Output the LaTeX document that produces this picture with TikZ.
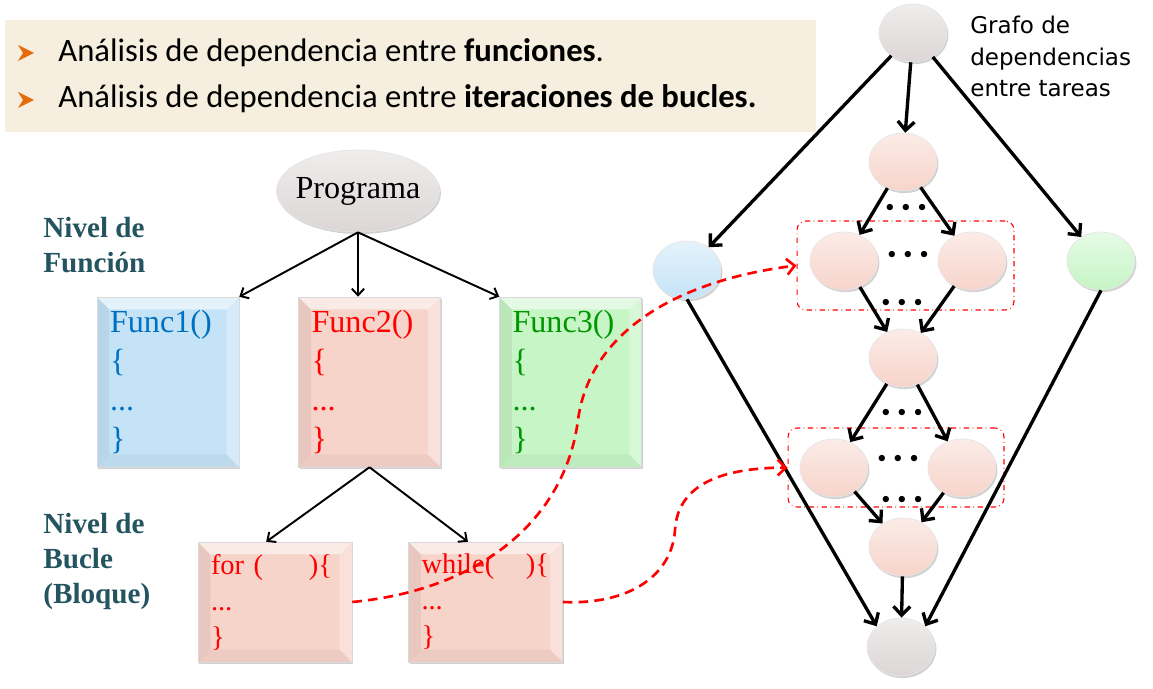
\documentclass[tikz,border=0pt]{standalone}
\usepackage{fontspec}
\setmainfont{Liberation Serif}
\newfontfamily\calibri{Carlito}
\newfontfamily\comic{DejaVu Sans}
\usetikzlibrary{arrows,arrows.meta,shapes.geometric,shadows}

\definecolor{beige}{RGB}{246,238,222}
\definecolor{naranja}{RGB}{228,108,10}
\definecolor{pizarra}{RGB}{36,84,96}
\definecolor{azulf}{RGB}{197,227,247}
\definecolor{azult}{RGB}{0,112,192}
\definecolor{rosaf}{RGB}{247,212,202}
\definecolor{verdef}{RGB}{198,245,198}
\definecolor{verdet}{RGB}{0,150,0}
\definecolor{grisf}{RGB}{220,214,214}

\begin{document}
\begin{tikzpicture}[x=0.02cm,y=-0.02cm]
\tikzstyle{sombra}=[drop shadow={shadow xshift=.8pt, shadow yshift=-1.2pt, opacity=.3, fill=black!60}]
\tikzstyle{bisel}=[path picture={
  \fill[white,opacity=.55] (path picture bounding box.north west) -- (path picture bounding box.north east) -- ([shift={(-7pt,-7pt)}]path picture bounding box.north east) -- ([shift={(7pt,-7pt)}]path picture bounding box.north west) -- cycle;
  \fill[black,opacity=.06] (path picture bounding box.north west) -- ([shift={(7pt,-7pt)}]path picture bounding box.north west) -- ([shift={(7pt,7pt)}]path picture bounding box.south west) -- (path picture bounding box.south west) -- cycle;
  \fill[black,opacity=.04] (path picture bounding box.south west) -- ([shift={(7pt,7pt)}]path picture bounding box.south west) -- ([shift={(-7pt,7pt)}]path picture bounding box.south east) -- (path picture bounding box.south east) -- cycle;
  \fill[white,opacity=.3] (path picture bounding box.south east) -- ([shift={(-7pt,7pt)}]path picture bounding box.south east) -- ([shift={(-7pt,-7pt)}]path picture bounding box.north east) -- (path picture bounding box.north east) -- cycle;
}]
\tikzstyle{caja}=[rectangle, draw=black!15, line width=.3pt, align=left, inner xsep=7.4pt, sombra, bisel]
\tikzstyle{func}=[caja, text width=2.32cm, minimum height=3.4cm, font=\fontsize{18.3}{22.2}\selectfont]
\tikzstyle{bucle}=[caja, fill=rosaf, text=red, text width=2.56cm, minimum height=2.4cm, font=\fontsize{16.2}{20.5}\selectfont]
\tikzstyle{nivel}=[anchor=north west, inner sep=0pt, align=left, text=pizarra, font=\bfseries\fontsize{16.6}{20}\selectfont]
\tikzstyle{tarea}=[ellipse, inner sep=0pt, minimum width=1.36cm, minimum height=1.16cm, draw=black!10, sombra]
\tikzstyle{rosa}=[top color=rosaf!45!white, bottom color=rosaf]
\tikzstyle{gris}=[top color=grisf!45!white, bottom color=grisf]
\tikzstyle{puntos}=[inner sep=0pt, font=\fontsize{9}{10}\selectfont]
\tikzstyle{grupo}=[rectangle, draw=red, dash dot, line width=.6pt, rounded corners=5pt]
\tikzstyle{flecha}=[-{Straight Barb[length=3.8pt,width=7pt]}, line width=1.1pt]
\tikzstyle{arista}=[-{Straight Barb[length=5pt,width=9.5pt]}, line width=1.9pt]
\tikzstyle{dep}=[-{Straight Barb[length=4.5pt,width=9pt]}, red, line width=1.5pt, dash pattern=on 5.5pt off 3.5pt]

\useasboundingbox (0,0) rectangle (1153,689);

% cabecera
\fill[beige] (5,20) rectangle (816,132);
\fill[naranja] (18,45) -- (34,53) -- (18,61) -- (23,53) -- cycle;
\fill[naranja] (18,92) -- (34,100) -- (18,108) -- (23,100) -- cycle;
\draw (58,62) node (t1) [anchor=base west, inner sep=0pt, font=\calibri\fontsize{18.6}{20}\selectfont] {Análisis de dependencia entre \textbf{funciones}.};
\draw (58,108) node (t2) [anchor=base west, inner sep=0pt, font=\calibri\fontsize{18.6}{20}\selectfont] {Análisis de dependencia entre \textbf{iteraciones de bucles.}};

% arbol del programa
\draw (358,191) node (prog) [ellipse, inner xsep=-4pt, inner ysep=0pt, minimum width=3.26cm, minimum height=1.64cm, draw=black!10, gris, sombra, font=\fontsize{18.3}{20}\selectfont] {Programa};
\draw (43,217) node (niv1) [nivel] {Nivel de\\Función};
\draw (43,513) node (niv2) [nivel] {Nivel de\\Bucle\\(Bloque)};
\draw (168,382) node (f1) [func, fill=azulf, text=azult] {Func1()\\\{\\...\\\}};
\draw (369.5,382) node (f2) [func, fill=rosaf, text=red] {Func2()\\\{\\...\\\}};
\draw (570.5,382) node (f3) [func, fill=verdef, text=verdet] {Func3()\\\{\\...\\\}};
\draw (275,602) node (lp1) [bucle] {for (\hspace{26pt})\{\\...\\\}};
\draw (485.5,602) node (wh) [bucle] {while(\hspace{18pt})\{\\...\\\}};
\draw[flecha] (prog.south) -- (f1.north east);
\draw[flecha] (prog.south) -- (prog.south |- f2.north);
\draw[flecha] (prog.south) -- (f3.north west);
\draw[flecha] (f2.south) -- ([xshift=-5pt]lp1.north);
\draw[flecha] (f2.south) -- ([xshift=-10pt]wh.north);

% grafo de tareas
\draw (905.5,265.5) node (grp1) [grupo, minimum width=4.34cm, minimum height=1.78cm] {};
\draw (896,467.5) node (grp2) [grupo, minimum width=4.32cm, minimum height=1.58cm] {};
\draw (913,33) node (g0) [tarea, gris] {};
\draw (903,162) node (g1) [tarea, rosa] {};
\draw (687,270) node (gb) [tarea, top color=azulf!45!white, bottom color=azulf] {};
\draw (1101,261) node (gg) [tarea, top color=verdef!45!white, bottom color=verdef] {};
\draw (844,261) node (g2) [tarea, rosa] {};
\draw (972,261) node (g3) [tarea, rosa] {};
\draw (903,358) node (g4) [tarea, rosa] {};
\draw (834,468) node (g5) [tarea, rosa] {};
\draw (962,468) node (g6) [tarea, rosa] {};
\draw (903,547) node (g7) [tarea, rosa] {};
\draw (901,647) node (g8) [tarea, gris] {};
\draw (906,208) node (d1) [puntos] {$\bullet\hspace{2.5pt}\bullet\hspace{2.5pt}\bullet$};
\draw (908,255) node (d2) [puntos] {$\bullet\hspace{2.5pt}\bullet\hspace{2.5pt}\bullet$};
\draw (902,303) node (d3) [puntos] {$\bullet\hspace{2.5pt}\bullet\hspace{2.5pt}\bullet$};
\draw (902,413) node (d4) [puntos] {$\bullet\hspace{2.5pt}\bullet\hspace{2.5pt}\bullet$};
\draw (898,459) node (d5) [puntos] {$\bullet\hspace{2.5pt}\bullet\hspace{2.5pt}\bullet$};
\draw (902,500) node (d6) [puntos] {$\bullet\hspace{2.5pt}\bullet\hspace{2.5pt}\bullet$};
\draw (970,16) node (graf) [anchor=north west, inner sep=0pt, align=left, font=\comic\fontsize{13.1}{17.9}\selectfont] {Grafo de\\dependencias\\entre tareas};
\draw[arista] (g0) -- (g1);
\draw[arista] (g0) -- (gb);
\draw[arista] (g0) -- (gg);
\draw[arista] (g1) -- (g2);
\draw[arista] (g1) -- (g3);
\draw[arista] (g2) -- (g4);
\draw[arista] (g3) -- (g4);
\draw[arista] (g4) -- (g5);
\draw[arista] (g4) -- (g6);
\draw[arista] (g5) -- (g7);
\draw[arista] (g6) -- (g7);
\draw[arista] (g7) -- (g8);
\draw[arista] (gb.south) -- (g8.north west);
\draw[arista] (gg.south) -- (g8.north east);

% correspondencias
\draw[dep] (lp1.east) .. controls (480,590) and (565,520) .. (578,420) .. controls (590,330) and (680,280) .. (grp1.west);
\draw[dep] (wh.east) .. controls (630,605) and (672,575) .. (675,530) .. controls (678,480) and (730,468) .. (grp2.west);
\end{tikzpicture}
\end{document}
